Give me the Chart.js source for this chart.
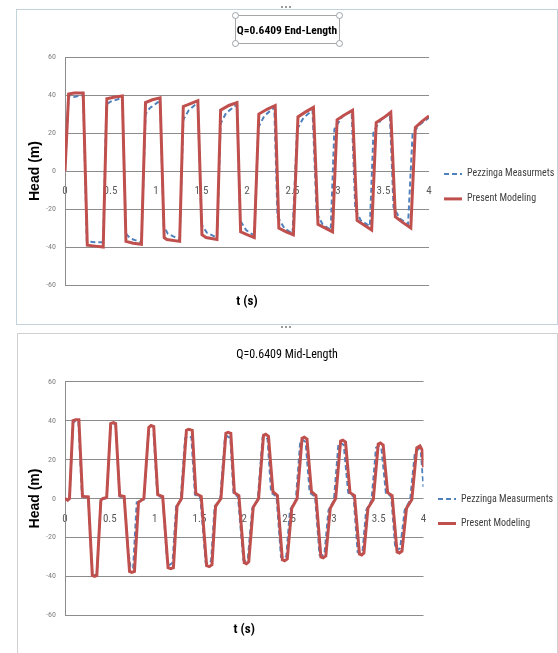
<!DOCTYPE html>
<html><head><meta charset="utf-8">
<script src="https://cdn.jsdelivr.net/npm/chart.js@4.4.1/dist/chart.umd.min.js"></script>
<style>
html,body{margin:0;padding:0;background:#fff;width:558px;height:653px;overflow:hidden;position:relative}
.frame{position:absolute;box-sizing:border-box}
#f1{left:16px;top:9px;width:542px;height:316px;border:1px solid #c3d3db}
#f2{left:17px;top:333px;width:541px;height:330px;border:1px solid #d0d0d0}
.wrap{position:absolute;left:16px;width:542px}
#w1{top:0;height:325px}
#w2{top:333px;height:320px}
#tbox{position:absolute;left:235px;top:15px;width:105px;height:29px;border:1px solid #a6a6a6;box-sizing:border-box}
.h{position:absolute;width:7px;height:7px;border:1px solid #9aa5ad;border-radius:50%;background:#fff;box-sizing:border-box}
.dots{position:absolute;height:0;border-top:2px dotted #9a9a9a}
</style></head>
<body>
<div class="frame" id="f1"></div>
<div class="frame" id="f2"></div>
<div id="tbox"></div>
<div class="h" style="left:232px;top:12px"></div>
<div class="h" style="left:336px;top:12px"></div>
<div class="h" style="left:232px;top:40px"></div>
<div class="h" style="left:336px;top:40px"></div>
<div class="dots" style="left:281px;top:6px;width:10px"></div>
<div class="dots" style="left:281px;top:326px;width:10px"></div>
<div class="wrap" id="w1"><canvas id="c1"></canvas></div>
<div class="wrap" id="w2"><canvas id="c2"></canvas></div>
<script>
// ---- axis ticks / labels ----
const yTicks = [-60, -40, -20, 0, 20, 40, 60];
const xTicks = [0, 0.5, 1, 1.5, 2, 2.5, 3, 3.5, 4];
const titleEnd = 'Q=0.6409 End-Length';
const titleMid = 'Q=0.6409 Mid-Length';
const namesEnd = ['Pezzinga Measurmets', 'Present Modeling'];
const namesMid = ['Pezzinga Measurments', 'Present Modeling'];
const xTitle = 't (s)';
const yTitle = 'Head (m)';

// ---- End-Length: measurements ----
const endMeasT = [0, 0.04, 0.10, 0.20, 0.24, 0.33, 0.42, 0.455, 0.50, 0.63, 0.67, 0.72, 0.84, 0.885, 0.93, 1.00, 1.045, 1.085, 1.13, 1.26, 1.30, 1.36, 1.46, 1.50, 1.56, 1.67, 1.71, 1.77, 1.89, 1.925, 1.99, 2.08, 2.125, 2.19, 2.30, 2.335, 2.41, 2.50, 2.55, 2.62, 2.72, 2.765, 2.83, 2.92, 2.96, 3.05, 3.15, 3.19, 3.25, 3.35, 3.39, 3.48, 3.57, 3.61, 3.68, 3.77, 3.82, 3.90, 4.0];
const endMeasH = [0, 39.5, 39, 40, -37, -37.5, -37.5, 35, 36.5, 38.5, -33, -35.5, -37.5, 30, 33, 35.5, 37, -29, -33, -36, 27, 32, 36, -28, -32.5, -35, 25, 30.5, 35, -26, -31, -34, 23, 29, 33.5, -24, -30, -33, 22, 28, 32, -22, -28, -31, 22, 29, 31.5, -20, -26, -29, 21, 27.5, 30, -19, -25, -28, 20, 24.5, 28];
// ---- End-Length: present modeling ----
const endModT = [0, 0.04, 0.10, 0.20, 0.245, 0.33, 0.42, 0.46, 0.55, 0.63, 0.67, 0.75, 0.84, 0.885, 0.96, 1.045, 1.09, 1.12, 1.26, 1.30, 1.38, 1.46, 1.505, 1.55, 1.67, 1.71, 1.80, 1.89, 1.93, 2.00, 2.08, 2.13, 2.22, 2.31, 2.35, 2.43, 2.51, 2.56, 2.64, 2.73, 2.78, 2.86, 2.94, 2.99, 3.07, 3.16, 3.21, 3.29, 3.37, 3.42, 3.50, 3.58, 3.63, 3.71, 3.80, 3.85, 3.92, 4.0];
const endModH = [0, 40.5, 41, 41, -39, -39.5, -40, 38, 39, 39.5, -37, -38, -38.5, 36, 37.5, 38.5, -35, -36, -37, 34, 35.5, 37, -33.5, -35, -36, 32, 34.5, 36, -32, -33.5, -35, 30, 32.5, 34.5, -30, -32, -33.5, 28.5, 31, 33.5, -28, -30, -32, 27, 29.5, 32, -26, -28.5, -31, 25.5, 28, 31, -24, -27, -30, 23, 26, 29];

// ---- Mid-Length: measurements ----
const midMeasT = [0, 0.03, 0.05, 0.09, 0.12, 0.15, 0.19, 0.26, 0.305, 0.33, 0.355, 0.40, 0.465, 0.51, 0.54, 0.565, 0.61, 0.66, 0.70, 0.73, 0.76, 0.80, 0.88, 0.93, 0.96, 0.99, 1.03, 1.09, 1.14, 1.17, 1.20, 1.24, 1.29, 1.34, 1.37, 1.41, 1.45, 1.51, 1.57, 1.60, 1.63, 1.67, 1.73, 1.785, 1.81, 1.845, 1.88, 1.93, 1.99, 2.015, 2.04, 2.09, 2.15, 2.205, 2.23, 2.26, 2.30, 2.36, 2.41, 2.44, 2.47, 2.51, 2.575, 2.625, 2.655, 2.685, 2.73, 2.79, 2.84, 2.865, 2.895, 2.94, 3.00, 3.05, 3.08, 3.11, 3.16, 3.22, 3.265, 3.29, 3.32, 3.36, 3.42, 3.47, 3.50, 3.53, 3.58, 3.64, 3.685, 3.71, 3.74, 3.79, 3.85, 3.905, 3.94, 3.97, 4.0];
const midMeasH = [0, -1, 0, 39, 40, 39.5, 1, 0.5, -39, -39.5, -39, -1, 0.5, 38, 38.5, 38, 1, 0.5, -25, -35, -36, -2, -0.5, 33, 33.5, 33, 1.5, 0.5, -33, -34, -33, -4, -1, 31, 32, 31.5, 2, 0.5, -33, -33.5, -32, -4, -1, 31.5, 32, 31, 2.5, 1, -31.5, -32, -31, -5, -1, 31.5, 32, 30.5, 3, 1, -30, -31, -29.5, -6, -1, 29.5, 30, 29, 3, 1, -29, -29.5, -28.5, -6, -1, 27.5, 28.5, 27.5, 3, 1, -27.5, -28, -27, -6, -1, 26, 27, 26, 3, 1, -25.5, -26.5, -25.5, -6, -1, 24, 25.5, 24, 6];
// ---- Mid-Length: present modeling ----
const midModT = [0, 0.03, 0.05, 0.09, 0.12, 0.155, 0.195, 0.22, 0.26, 0.305, 0.33, 0.355, 0.40, 0.42, 0.465, 0.51, 0.54, 0.565, 0.61, 0.66, 0.72, 0.745, 0.775, 0.82, 0.88, 0.935, 0.96, 0.99, 1.035, 1.09, 1.15, 1.18, 1.21, 1.25, 1.30, 1.355, 1.38, 1.42, 1.46, 1.52, 1.58, 1.61, 1.64, 1.68, 1.74, 1.795, 1.82, 1.85, 1.89, 1.94, 2.0, 2.025, 2.05, 2.10, 2.16, 2.215, 2.24, 2.27, 2.32, 2.37, 2.425, 2.45, 2.48, 2.53, 2.59, 2.645, 2.67, 2.70, 2.75, 2.80, 2.855, 2.88, 2.91, 2.96, 3.02, 3.075, 3.10, 3.13, 3.18, 3.23, 3.285, 3.31, 3.335, 3.38, 3.44, 3.495, 3.52, 3.55, 3.60, 3.65, 3.705, 3.73, 3.76, 3.81, 3.87, 3.925, 3.96, 3.985, 4.0];
const midModH = [0, -0.8, 0, 40, 40.5, 40.5, 1.2, 1, 0.8, -39.5, -40, -39.5, -1, 0, 0.5, 38.5, 39, 38.5, 1.5, 1, -37.5, -38, -37.5, -2, 0, 36.5, 37.5, 37, 2, 1, -35.5, -36, -35.5, -4, 0, 35, 35.5, 35, 2.5, 1, -34.5, -35, -34, -4, 0, 33.5, 34, 33.5, 3, 1.5, -33, -33.5, -32.5, -4.5, 0, 32.5, 33, 32, 3.5, 1.5, -31.5, -32, -31, -5, 0, 31, 31.5, 30.5, 3.5, 1.5, -30, -30.5, -29.5, -5, 0, 29.5, 30, 29, 3, 1.5, -28.5, -29, -28, -5, -0.5, 28, 28.5, 27.5, 3, 1.5, -27.5, -28, -27, -5, -0.5, 26, 27, 25, 16];

const BLUE = '#4F81BD';
const RED = '#C0504D';
const NARROW = "'Liberation Sans Narrow', 'Roboto Condensed', 'Liberation Sans', sans-serif";

function pts(T, H) { return T.map((t, i) => ({x: t, y: H[i]})); }

function build(id, c) {
  return new Chart(document.getElementById(id), {
    type: 'scatter',
    data: {datasets: [
      {label: c.names[0], data: pts(c.mT, c.mH), showLine: true, borderColor: BLUE, backgroundColor: BLUE,
       borderWidth: 2, borderDash: [5, 3], pointRadius: 0, tension: 0, order: 2},
      {label: c.names[1], data: pts(c.pT, c.pH), showLine: true, borderColor: RED, backgroundColor: RED,
       borderWidth: 3, pointRadius: 0, tension: 0, order: 1}
    ]},
    options: {
      responsive: true, maintainAspectRatio: false, animation: false, devicePixelRatio: 1,
      layout: {padding: {top: 0, left: 0, right: 0, bottom: c.padB}},
      scales: {
        x: {
          type: 'linear', min: 0, max: 4, position: {y: 0},
          afterBuildTicks: s => { s.ticks = xTicks.map(v => ({value: v})); },
          grid: {display: false, drawTicks: false}, border: {display: false},
          ticks: {padding: c.xPad, color: '#595959', font: {family: NARROW, size: 11}, maxRotation: 0, autoSkip: false,
                  callback: v => String(v)}
        },
        y: {
          type: 'linear', min: -60, max: 60,
          afterBuildTicks: s => { s.ticks = yTicks.map(v => ({value: v})); },
          afterFit: s => { s.width = 49; },
          grid: {color: '#8c8c8c', lineWidth: 1, drawTicks: false},
          border: {display: true, color: '#8c8c8c'},
          ticks: {padding: 9, color: '#7f7f7f', font: {family: NARROW, size: 8}},
          title: {display: true, text: yTitle, color: '#000',
                  font: {family: "'Liberation Sans', Arial, sans-serif", size: 14, weight: 'bold'},
                  padding: {top: 11, bottom: 0}}
        }
      },
      plugins: {
        title: {display: true, text: c.title, color: '#000',
                font: {family: NARROW, size: c.tSize, weight: c.bold ? 'bold' : 'normal'},
                padding: {top: c.tPadT, bottom: c.tPadB}},
        subtitle: {display: true, position: 'bottom', fullSize: false, text: xTitle, color: '#000',
                   font: {family: NARROW, size: 13, weight: 'bold'},
                   padding: {top: c.sPadT, bottom: 0}},
        legend: {
          position: 'right', align: 'start', fullSize: false, maxWidth: c.legW,
          title: {display: true, text: '', padding: {top: c.legOff, bottom: 0}},
          labels: {
            usePointStyle: true, pointStyleWidth: 18, padding: c.legPad, color: '#404040',
            font: {family: NARROW, size: 10},
            generateLabels: ch => ch.data.datasets.map((d, i) => ({
              text: d.label, strokeStyle: d.borderColor, fillStyle: d.borderColor, fontColor: '#404040',
              lineWidth: d.borderWidth, lineDash: d.borderDash || [], pointStyle: 'line',
              datasetIndex: i, hidden: false
            }))
          }
        },
        tooltip: {enabled: false}
      }
    }
  });
}

build('c1', {names: namesEnd, title: titleEnd, bold: true, tSize: 11.5, mT: endMeasT, mH: endMeasH, pT: endModT, pH: endModH,
  padB: 15.7, xPad: 14, tPadT: 24.6, tPadB: 18.6, sPadT: 8.6, legW: 129, legPad: 15, legOff: 82.5});
build('c2', {names: namesMid, title: titleMid, bold: false, tSize: 12, mT: midMeasT, mH: midMeasH, pT: midModT, pH: midModH,
  padB: 15.2, xPad: 14, tPadT: 14.8, tPadB: 19.5, sPadT: 6.9, legW: 134.5, legPad: 14.5, legOff: 83.5});
</script>
</body></html>
